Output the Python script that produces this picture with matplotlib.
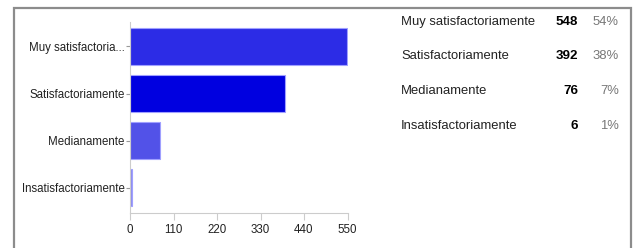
import matplotlib
matplotlib.use("Agg")
import matplotlib.pyplot as plt
from matplotlib.patches import Rectangle

categorias = ["Muy satisfactoria...", "Satisfactoriamente", "Medianamente", "Insatisfactoriamente"]
nombres = ["Muy satisfactoriamente", "Satisfactoriamente", "Medianamente", "Insatisfactoriamente"]
valores = [548, 392, 76, 6]
porcentajes = ["54%", "38%", "7%", "1%"]
ticks_x = [0, 110, 220, 330, 440, 550]
colores = ["#2c2ce6", "#0000e0", "#5252e8", "#8a8af0"]

plt.rcParams["font.family"] = ["Liberation Sans", "DejaVu Sans"]

fig = plt.figure(figsize=(6.35, 2.48), dpi=100)
# marco gris, sin borde inferior visible
fig.patches.append(Rectangle((14/635, -0.1), (631-14)/635, 1.1 - 8/248, transform=fig.transFigure,
                             fill=False, edgecolor="#8c8c8c", lw=1.6))

ax = fig.add_axes([130/635, 35/248, 217.5/635, 191/248])
pos = list(range(len(valores)))
ax.barh(pos, valores, height=0.79, color=colores, edgecolor="#a0a0ff", lw=0.8)
ax.set_xlim(0, 550)
ax.set_ylim(3.54, -0.52)
ax.set_yticks(pos)
ax.set_yticklabels(categorias, fontsize=8.3, color="#222222")
ax.set_xticks(ticks_x)
ax.set_xticklabels([str(t) for t in ticks_x], fontsize=8.3, color="#222222")
for s in ["top", "right"]:
    ax.spines[s].set_visible(False)
for s in ["left", "bottom"]:
    ax.spines[s].set_color("#cccccc")
ax.tick_params(axis="y", length=3, color="#999999", pad=1)
ax.tick_params(axis="x", length=5, color="#cccccc", pad=3)

filas_y = [22, 56, 91, 126]
for i in range(len(nombres)):
    y = 1 - filas_y[i] / 248
    fig.text(401/635, y, nombres[i], fontsize=9.4, color="#222222", va="center", ha="left")
    fig.text(578/635, y, str(valores[i]), fontsize=9.6, color="#000000", fontweight="bold",
             va="center", ha="right")
    fig.text(619/635, y, porcentajes[i], fontsize=9.4, color="#777777", va="center", ha="right")

fig.savefig("out.png", dpi=100)
